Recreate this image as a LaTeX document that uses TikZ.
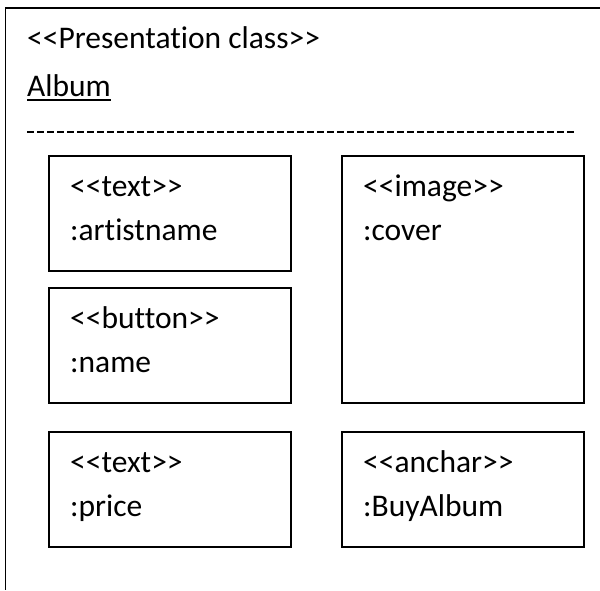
\documentclass[tikz,border=0pt]{standalone}
\usepackage{fontspec}
\setmainfont{Carlito}[Ligatures=CommonOff]
\usepackage{tikz}
\usetikzlibrary{positioning}
\newcommand{\stl}{{<}{<}}
\newcommand{\str}{{>}{>}}
\tikzset{
  uibox/.style={draw, line width=1.6pt, minimum width=242pt, minimum height=115pt,
    inner sep=0pt, anchor=north west},
  stereo/.style={anchor=base west, inner sep=0pt, font=\fontsize{31.5}{36}\selectfont},
}
\begin{document}
\begin{tikzpicture}[x=1pt, y=-1pt]
  \useasboundingbox (0,0) rectangle (600,590);
  % frame of the presentation class
  \coordinate (tr) at (600,8);
  \coordinate (bl) at (5.5,590);
  \draw[line width=1.6pt] (tr) -| (bl);

  \node[stereo] (head) at (27,48) {\stl Presentation class\str};
  \node[stereo] (name) at (27,96) {Album};
  \draw[line width=1.4pt] (name.base west) ++(0,4) coordinate (ul) -- (ul -| name.east);
  \coordinate (dl) at (27,131.5);
  \coordinate (dr) at (575,131.5);
  \draw[line width=2pt, dash pattern=on 7pt off 3pt] (dl) -- (dr);

  % parts
  \node[uibox] (artist) at (48,155) {};
  \node[uibox] (button) at (48,287) {};
  \node[uibox] (price) at (48,431) {};
  \node[uibox, minimum height=247pt] (cover) at (341,155) {};
  \node[uibox] (buy) at (341,431) {};

  \foreach \b/\s/\n in {artist/text/artistname, button/button/name, price/text/price,
                        cover/image/cover, buy/anchar/BuyAlbum} {
    \node[stereo, xshift=22pt, yshift=-41pt] (\b-s) at (\b.north west) {\stl\s\str};
    \node[stereo, xshift=22pt, yshift=-85pt] (\b-n) at (\b.north west) {:\n};
  }
\end{tikzpicture}
\end{document}
